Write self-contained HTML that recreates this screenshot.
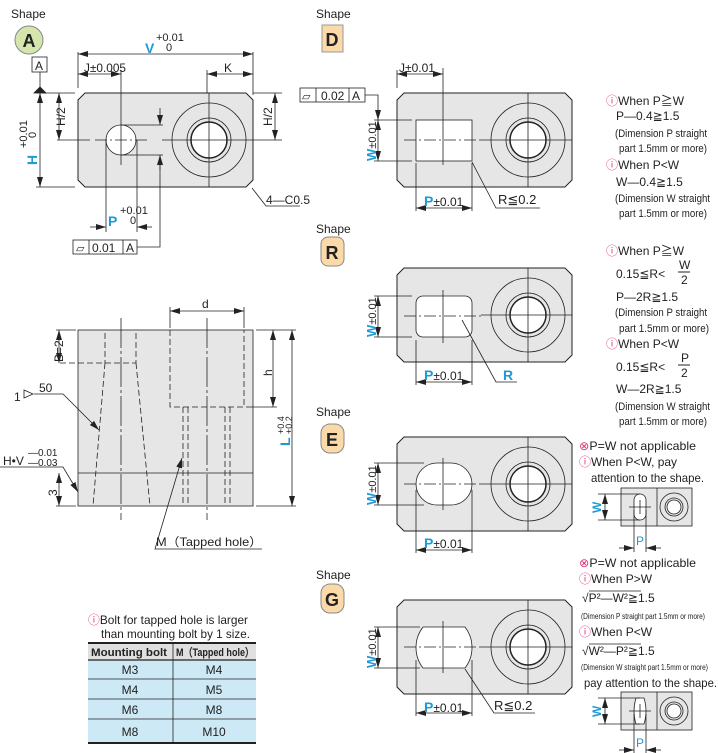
<!DOCTYPE html>
<html><head><meta charset="utf-8"><style>
html,body{margin:0;padding:0;background:#fff}
svg{display:block}
text{font-family:"Liberation Sans",sans-serif;fill:#222}
.b{fill:#1e9ad6;font-weight:bold}
</style></head><body>
<svg width="718" height="753" viewBox="0 0 718 753" xmlns="http://www.w3.org/2000/svg">
<defs>
<marker id="ar" viewBox="0 0 10 6" refX="10" refY="3" markerWidth="10" markerHeight="6" orient="auto-start-reverse" markerUnits="userSpaceOnUse"><path d="M0,0 L10,3 L0,6 Z" fill="#222"/></marker>
<g id="plate">
<path d="M7,0 H168 L175,7 V87 L168,94 H7 L0,87 V7 Z" fill="#e6e6e6" stroke="#222" stroke-width="1"/>
<circle cx="131" cy="47" r="37" fill="none" stroke="#222"/>
<circle cx="131" cy="47" r="22" fill="none" stroke="#222"/>
<circle cx="131" cy="47" r="18" fill="#fff" stroke="#222" stroke-width="1.5"/>
<line x1="131" y1="0" x2="131" y2="94" stroke="#222" stroke-width=".8"/>
<line x1="84" y1="47" x2="175" y2="47" stroke="#222" stroke-width=".8"/>
</g>
<g id="mini">
<rect x="0" y="0" width="71" height="38" fill="#e6e6e6" stroke="#222"/>
<line x1="36" y1="0" x2="36" y2="38" stroke="#222"/>
<circle cx="53" cy="19" r="14" fill="none" stroke="#222"/>
<circle cx="53" cy="19" r="9" fill="none" stroke="#222"/>
<circle cx="53" cy="19" r="7" fill="#fff" stroke="#222"/>
</g>
</defs>
<g stroke="#222" stroke-width=".8" fill="none">

<!-- ===== Shape A ===== -->
<use href="#plate" x="78" y="93"/>
<circle cx="121" cy="140" r="15" fill="#fff" stroke="#222"/>
<line x1="95" y1="140" x2="147" y2="140" stroke-dasharray="12,3,2,3"/>
<line x1="121" y1="70" x2="121" y2="165"/>
<line x1="57" y1="140" x2="90" y2="140"/>
<line x1="253" y1="140" x2="282" y2="140"/>
<line x1="253" y1="93" x2="282" y2="93"/>
<line x1="36" y1="93" x2="75" y2="93"/>
<line x1="36" y1="187" x2="75" y2="187"/>
<line x1="78" y1="52" x2="78" y2="88"/><line x1="253" y1="52" x2="253" y2="95"/>
<line x1="78" y1="54" x2="253" y2="54" marker-start="url(#ar)" marker-end="url(#ar)"/>
<line x1="78" y1="74" x2="121" y2="74" marker-start="url(#ar)" marker-end="url(#ar)"/>
<line x1="207" y1="70" x2="207" y2="93"/>
<line x1="207" y1="74" x2="253" y2="74" marker-start="url(#ar)" marker-end="url(#ar)"/>
<line x1="40" y1="93" x2="40" y2="187" marker-start="url(#ar)" marker-end="url(#ar)"/>
<line x1="59" y1="93" x2="59" y2="140" marker-start="url(#ar)" marker-end="url(#ar)"/>
<line x1="275" y1="93" x2="275" y2="140" marker-start="url(#ar)" marker-end="url(#ar)"/>
<line x1="40" y1="72" x2="40" y2="88"/>
<path d="M34,93 L40,87 L46,93 Z" fill="#222"/>
<rect x="32" y="57" width="15" height="15" fill="#fff"/>
<line x1="106" y1="140" x2="106" y2="232"/><line x1="137" y1="140" x2="137" y2="232"/>
<line x1="90" y1="227" x2="106" y2="227" marker-end="url(#ar)"/>
<line x1="152" y1="227" x2="137" y2="227" marker-end="url(#ar)"/>
<line x1="121" y1="125" x2="163" y2="125"/><line x1="121" y1="155" x2="163" y2="155"/>
<line x1="160" y1="108" x2="160" y2="125" marker-end="url(#ar)"/>
<line x1="160" y1="170" x2="160" y2="155" marker-end="url(#ar)"/>
<polyline points="160,155 160,247 137,247"/>
<rect x="73" y="240" width="64" height="14" fill="#fff"/>
<line x1="89" y1="240" x2="89" y2="254"/><line x1="123" y1="240" x2="123" y2="254"/>
<polyline points="252,188 266,206 300,206"/>

<!-- ===== Shape D ===== -->
<use href="#plate" x="397" y="93"/>
<rect x="416" y="120" width="56" height="41" fill="#fff" stroke="#222"/>
<line x1="404" y1="140" x2="484" y2="140" stroke-dasharray="12,3,2,3"/>
<line x1="443" y1="68" x2="443" y2="165"/>
<line x1="397" y1="70" x2="397" y2="88"/>
<line x1="397" y1="74" x2="443" y2="74" marker-start="url(#ar)" marker-end="url(#ar)"/>
<line x1="374" y1="120" x2="412" y2="120"/><line x1="374" y1="161" x2="412" y2="161"/>
<line x1="378" y1="120" x2="378" y2="161" marker-start="url(#ar)" marker-end="url(#ar)"/>
<polyline points="365,95 378,95 378,120" marker-end="url(#ar)"/>
<rect x="300" y="88" width="65" height="14" fill="#fff"/>
<line x1="316" y1="88" x2="316" y2="102"/><line x1="349" y1="88" x2="349" y2="102"/>
<line x1="416" y1="163" x2="416" y2="211"/><line x1="472" y1="163" x2="472" y2="211"/>
<line x1="416" y1="208" x2="472" y2="208" marker-start="url(#ar)" marker-end="url(#ar)"/>
<polyline points="540,208 496,208 472,162"/>

<!-- ===== Shape R ===== -->
<use href="#plate" x="397" y="268"/>
<rect x="416" y="296" width="56" height="41" rx="7" fill="#fff" stroke="#222"/>
<line x1="404" y1="316" x2="484" y2="316" stroke-dasharray="12,3,2,3"/>
<line x1="443" y1="290" x2="443" y2="343"/>
<line x1="374" y1="296" x2="412" y2="296"/><line x1="374" y1="337" x2="412" y2="337"/>
<line x1="378" y1="296" x2="378" y2="337" marker-start="url(#ar)" marker-end="url(#ar)"/>
<line x1="416" y1="340" x2="416" y2="385"/><line x1="472" y1="340" x2="472" y2="385"/>
<line x1="416" y1="382" x2="472" y2="382" marker-start="url(#ar)" marker-end="url(#ar)"/>
<polyline points="517,382 496,382 462,320"/>

<!-- ===== Shape E ===== -->
<use href="#plate" x="397" y="437"/>
<rect x="416" y="463" width="56" height="42" rx="21" fill="#fff" stroke="#222"/>
<line x1="404" y1="484" x2="484" y2="484" stroke-dasharray="12,3,2,3"/>
<line x1="443" y1="458" x2="443" y2="510"/>
<line x1="374" y1="463" x2="424" y2="463"/><line x1="374" y1="505" x2="424" y2="505"/>
<line x1="378" y1="463" x2="378" y2="505" marker-start="url(#ar)" marker-end="url(#ar)"/>
<line x1="416" y1="490" x2="416" y2="553"/><line x1="472" y1="490" x2="472" y2="553"/>
<line x1="416" y1="550" x2="472" y2="550" marker-start="url(#ar)" marker-end="url(#ar)"/>

<use href="#mini" x="621" y="488"/>
<rect x="634" y="494" width="12" height="26" rx="6" fill="#fff" stroke="#222"/>
<line x1="629" y1="507" x2="651" y2="507"/><line x1="640" y1="500" x2="640" y2="514"/>
<line x1="598" y1="494" x2="640" y2="494"/><line x1="598" y1="520" x2="640" y2="520"/>
<line x1="605" y1="494" x2="605" y2="520" marker-start="url(#ar)" marker-end="url(#ar)"/>
<line x1="634" y1="510" x2="634" y2="552"/><line x1="646" y1="510" x2="646" y2="552"/>
<line x1="619" y1="548" x2="634" y2="548" marker-end="url(#ar)"/>
<line x1="661" y1="548" x2="646" y2="548" marker-end="url(#ar)"/>

<!-- ===== Shape G ===== -->
<use href="#plate" x="397" y="600"/>
<path d="M423,627 H465 A33.5,33.5 0 0 1 465,668 H423 A33.5,33.5 0 0 1 423,627 Z" fill="#fff" stroke="#222"/>
<line x1="404" y1="647" x2="484" y2="647" stroke-dasharray="12,3,2,3"/>
<line x1="443" y1="621" x2="443" y2="673"/>
<line x1="374" y1="627" x2="420" y2="627"/><line x1="374" y1="668" x2="420" y2="668"/>
<line x1="378" y1="627" x2="378" y2="668" marker-start="url(#ar)" marker-end="url(#ar)"/>
<line x1="416" y1="660" x2="416" y2="716"/><line x1="472" y1="660" x2="472" y2="716"/>
<line x1="416" y1="713" x2="472" y2="713" marker-start="url(#ar)" marker-end="url(#ar)"/>
<polyline points="535,713 494,713 465,669"/>

<use href="#mini" x="621" y="692"/>
<path d="M636,698 H644 Q648,711 644,724 H636 Q632,711 636,698 Z" fill="#fff" stroke="#222"/>
<line x1="629" y1="711" x2="651" y2="711"/><line x1="640" y1="704" x2="640" y2="718"/>
<line x1="598" y1="698" x2="640" y2="698"/><line x1="598" y1="724" x2="640" y2="724"/>
<line x1="605" y1="698" x2="605" y2="724" marker-start="url(#ar)" marker-end="url(#ar)"/>
<line x1="634" y1="714" x2="634" y2="753"/><line x1="646" y1="714" x2="646" y2="753"/>
<line x1="619" y1="750" x2="634" y2="750" marker-end="url(#ar)"/>
<line x1="661" y1="750" x2="646" y2="750" marker-end="url(#ar)"/>

<!-- ===== Side view ===== -->
<rect x="78" y="330" width="175" height="176" fill="#e6e6e6" stroke="#222"/>
<line x1="78" y1="473" x2="253" y2="473"/>
<g stroke-dasharray="6,3">
<line x1="105" y1="333" x2="105" y2="363"/><line x1="136" y1="333" x2="136" y2="363"/>
<line x1="105" y1="363" x2="93" y2="506"/><line x1="136" y1="363" x2="150" y2="506"/>
<line x1="60" y1="363" x2="136" y2="363"/>
<polyline points="170,330 170,407 244,407 244,330"/>
<line x1="183" y1="407" x2="183" y2="506"/><line x1="188" y1="407" x2="188" y2="506"/>
<line x1="225" y1="407" x2="225" y2="506"/><line x1="230" y1="407" x2="230" y2="506"/>
</g>
<line x1="121" y1="318" x2="121" y2="520" stroke-dasharray="30,3,3,3"/>
<line x1="207" y1="318" x2="207" y2="520" stroke-dasharray="30,3,3,3"/>
<line x1="170" y1="307" x2="170" y2="328"/><line x1="244" y1="307" x2="244" y2="328"/>
<line x1="170" y1="311" x2="244" y2="311" marker-start="url(#ar)" marker-end="url(#ar)"/>
<line x1="56" y1="330" x2="76" y2="330"/>
<line x1="59" y1="330" x2="59" y2="363" marker-start="url(#ar)" marker-end="url(#ar)"/>
<line x1="56" y1="506" x2="76" y2="506"/>
<line x1="59" y1="473" x2="59" y2="506" marker-start="url(#ar)" marker-end="url(#ar)"/>
<line x1="256" y1="330" x2="296" y2="330"/><line x1="246" y1="407" x2="277" y2="407"/><line x1="256" y1="506" x2="296" y2="506"/>
<line x1="273" y1="330" x2="273" y2="407" marker-start="url(#ar)" marker-end="url(#ar)"/>
<line x1="292" y1="330" x2="292" y2="506" marker-start="url(#ar)" marker-end="url(#ar)"/>
<polyline points="34,394 63,394 99,430" marker-end="url(#ar)"/>
<path d="M24,390 L33,394 L24,398 Z" fill="#fff"/>
<polyline points="0,467 63,467 78,492" marker-end="url(#ar)"/>
<polyline points="262,549 155,549 182,458" marker-end="url(#ar)"/>

<!-- table -->
<rect x="88" y="643" width="168" height="17" fill="#e0e0e0" stroke="none"/>
<rect x="88" y="660" width="168" height="83" fill="#cde9f6" stroke="none"/>
<line x1="88" y1="643" x2="256" y2="643" stroke-width="2"/>
<line x1="88" y1="660" x2="256" y2="660" stroke-width="1.2"/>
<line x1="88" y1="679" x2="256" y2="679"/><line x1="88" y1="699" x2="256" y2="699"/><line x1="88" y1="719" x2="256" y2="719"/>
<line x1="88" y1="743" x2="256" y2="743" stroke-width="2"/>
<line x1="173" y1="643" x2="173" y2="743"/>
</g>

<!-- labels / badges -->
<text x="11" y="18" font-size="12">Shape</text>
<circle cx="29" cy="40" r="14" fill="#d4e6ad" stroke="#888"/>
<text x="29" y="47" font-size="18" font-weight="bold" text-anchor="middle">A</text>
<text x="39" y="70" font-size="12" text-anchor="middle">A</text>
<text x="316" y="18" font-size="12">Shape</text>
<rect x="322" y="25" width="21" height="27" fill="#fbd9a8" stroke="#999"/>
<text x="332" y="46" font-size="18" font-weight="bold" text-anchor="middle">D</text>
<text x="316" y="233" font-size="12">Shape</text>
<rect x="321" y="237" width="23" height="29" rx="7" fill="#fbd9a8" stroke="#888"/>
<text x="332" y="259" font-size="18" font-weight="bold" text-anchor="middle">R</text>
<text x="316" y="416" font-size="12">Shape</text>
<rect x="321" y="424" width="23" height="29" rx="9" fill="#fbd9a8" stroke="#888"/>
<text x="332" y="446" font-size="18" font-weight="bold" text-anchor="middle">E</text>
<text x="316" y="579" font-size="12">Shape</text>
<rect x="321" y="584" width="23" height="29" rx="9" fill="#fbd9a8" stroke="#888"/>
<text x="332" y="606" font-size="18" font-weight="bold" text-anchor="middle">G</text>

<!-- Shape A dims -->
<text x="145" y="53" font-size="14" class="b">V</text>
<text x="156" y="41" font-size="11">+0.01</text><text x="166" y="51" font-size="11">0</text>
<text x="84" y="72" font-size="12" textLength="42" lengthAdjust="spacingAndGlyphs">J±0.005</text>
<text x="224" y="72" font-size="12">K</text>
<text transform="translate(65,126) rotate(-90)" font-size="12">H/2</text>
<text transform="translate(272,126) rotate(-90)" font-size="12">H/2</text>
<text transform="translate(37,165) rotate(-90)" font-size="14" class="b">H</text>
<text transform="translate(27,148) rotate(-90)" font-size="11">+0.01</text>
<text transform="translate(36,138) rotate(-90)" font-size="11">0</text>
<text x="108" y="226" font-size="14" class="b">P</text>
<text x="120" y="214" font-size="11">+0.01</text><text x="130" y="224" font-size="11">0</text>
<text x="76" y="252" font-size="11">⏥</text><text x="92" y="252" font-size="12">0.01</text><text x="126" y="252" font-size="12">A</text>
<text x="266" y="204" font-size="12">4—C0.5</text>

<!-- Shape D dims -->
<text x="399" y="72" font-size="12">J±0.01</text>
<text x="302" y="100" font-size="11">⏥</text><text x="321" y="100" font-size="12">0.02</text><text x="352" y="100" font-size="12">A</text>
<text transform="translate(376,161) rotate(-90)" font-size="11"><tspan class="b" font-size="13">W</tspan>±0.01</text>
<text x="424" y="206" font-size="12"><tspan class="b" font-size="14">P</tspan>±0.01</text>
<text x="498" y="204" font-size="13">R≦0.2</text>
<g font-size="12">
<text x="606" y="105"><tspan fill="#e0337a">ⓘ</tspan>When P≧W</text>
<text x="616" y="120">P—0.4≧1.5</text>
<text x="615" y="137" font-size="11" textLength="92" lengthAdjust="spacingAndGlyphs">(Dimension P straight</text>
<text x="619" y="152" font-size="11" textLength="88" lengthAdjust="spacingAndGlyphs">part 1.5mm or more)</text>
<text x="606" y="169"><tspan fill="#e0337a">ⓘ</tspan>When P&lt;W</text>
<text x="616" y="186">W—0.4≧1.5</text>
<text x="615" y="202" font-size="11" textLength="95" lengthAdjust="spacingAndGlyphs">(Dimension W straight</text>
<text x="619" y="217" font-size="11" textLength="88" lengthAdjust="spacingAndGlyphs">part 1.5mm or more)</text>
</g>

<!-- Shape R dims -->
<text transform="translate(376,337) rotate(-90)" font-size="11"><tspan class="b" font-size="13">W</tspan>±0.01</text>
<text x="424" y="380" font-size="12"><tspan class="b" font-size="14">P</tspan>±0.01</text>
<text x="503" y="380" font-size="14" class="b">R</text>
<g font-size="12">
<text x="606" y="255"><tspan fill="#e0337a">ⓘ</tspan>When P≧W</text>
<text x="616" y="278">0.15≦R&lt;</text>
<text x="679" y="269">W</text><line x1="678" y1="272" x2="690" y2="272" stroke="#222"/><text x="681" y="284">2</text>
<text x="616" y="301">P—2R≧1.5</text>
<text x="615" y="316" font-size="11" textLength="92" lengthAdjust="spacingAndGlyphs">(Dimension P straight</text>
<text x="619" y="332" font-size="11" textLength="90" lengthAdjust="spacingAndGlyphs">part  1.5mm or more)</text>
<text x="606" y="348"><tspan fill="#e0337a">ⓘ</tspan>When P&lt;W</text>
<text x="616" y="371">0.15≦R&lt;</text>
<text x="681" y="362">P</text><line x1="678" y1="365" x2="690" y2="365" stroke="#222"/><text x="681" y="377">2</text>
<text x="616" y="393">W—2R≧1.5</text>
<text x="615" y="410" font-size="11" textLength="95" lengthAdjust="spacingAndGlyphs">(Dimension W straight</text>
<text x="619" y="425" font-size="11" textLength="88" lengthAdjust="spacingAndGlyphs">part 1.5mm or more)</text>
</g>

<!-- Shape E dims -->
<text transform="translate(376,505) rotate(-90)" font-size="11"><tspan class="b" font-size="13">W</tspan>±0.01</text>
<text x="424" y="548" font-size="12"><tspan class="b" font-size="14">P</tspan>±0.01</text>
<g font-size="12">
<text x="579" y="450" textLength="117" lengthAdjust="spacingAndGlyphs"><tspan fill="#e0337a">⊗</tspan>P=W not applicable</text>
<text x="579" y="466" textLength="98" lengthAdjust="spacingAndGlyphs"><tspan fill="#e0337a">ⓘ</tspan>When P&lt;W, pay</text>
<text x="591" y="482" textLength="113" lengthAdjust="spacingAndGlyphs">attention to the shape.</text>
</g>
<text transform="translate(601,513) rotate(-90)" font-size="12" class="b">W</text>
<text x="636" y="545" font-size="12" style="fill:#1e9ad6">P</text>

<!-- Shape G dims -->
<text transform="translate(376,668) rotate(-90)" font-size="11"><tspan class="b" font-size="13">W</tspan>±0.01</text>
<text x="424" y="712" font-size="12"><tspan class="b" font-size="14">P</tspan>±0.01</text>
<text x="494" y="710" font-size="13">R≦0.2</text>
<g font-size="12">
<text x="579" y="567" textLength="117" lengthAdjust="spacingAndGlyphs"><tspan fill="#e0337a">⊗</tspan>P=W not applicable</text>
<text x="579" y="583"><tspan fill="#e0337a">ⓘ</tspan>When P&gt;W</text>
<text x="582" y="602">√P²—W²≧1.5</text>
<text x="581" y="619" font-size="8" textLength="124" lengthAdjust="spacingAndGlyphs">(Dimension P straight part 1.5mm or more)</text>
<text x="579" y="636"><tspan fill="#e0337a">ⓘ</tspan>When P&lt;W</text>
<text x="582" y="655">√W²—P²≧1.5</text>
<text x="581" y="670" font-size="8" textLength="127" lengthAdjust="spacingAndGlyphs">(Dimension W straight part 1.5mm or more)</text>
<text x="584" y="687" textLength="133" lengthAdjust="spacingAndGlyphs">pay attention to the shape.</text>
</g>
<line x1="589" y1="591" x2="641" y2="591" stroke="#222" stroke-width=".8"/>
<line x1="589" y1="644" x2="641" y2="644" stroke="#222" stroke-width=".8"/>
<text transform="translate(601,717) rotate(-90)" font-size="12" class="b">W</text>
<text x="636" y="747" font-size="12" style="fill:#1e9ad6">P</text>

<!-- Side view labels -->
<text x="202" y="308" font-size="12">d</text>
<text transform="translate(63,362) rotate(-90)" font-size="12">B=2</text>
<text transform="translate(272,376) rotate(-90)" font-size="12">h</text>
<text transform="translate(290,446) rotate(-90)" font-size="14" class="b">L</text>
<text transform="translate(284,434) rotate(-90)" font-size="9">+0.4</text>
<text transform="translate(292,434) rotate(-90)" font-size="9">+0.2</text>
<text x="14" y="401" font-size="12">1</text>
<text x="39" y="392" font-size="12">50</text>
<text x="3" y="465" font-size="12">H•V</text>
<text x="28" y="456" font-size="10">—0.01</text><text x="28" y="466" font-size="10">—0.03</text>
<text transform="translate(57,496) rotate(-90)" font-size="12">3</text>
<text x="156" y="546" font-size="12" textLength="106" lengthAdjust="spacingAndGlyphs">M（Tapped hole）</text>

<!-- table text -->
<text x="88" y="624" font-size="12" textLength="160" lengthAdjust="spacingAndGlyphs"><tspan fill="#e0337a">ⓘ</tspan>Bolt for tapped hole is larger</text>
<text x="101" y="638" font-size="12" textLength="149" lengthAdjust="spacingAndGlyphs">than mounting bolt by 1 size.</text>
<text x="91" y="656" font-size="11" font-weight="bold" textLength="76" lengthAdjust="spacingAndGlyphs">Mounting bolt</text>
<text x="176" y="656" font-size="11" font-weight="bold" textLength="78" lengthAdjust="spacingAndGlyphs">M（Tapped hole）</text>
<g font-size="12" text-anchor="middle">
<text x="130" y="674">M3</text><text x="214" y="674">M4</text>
<text x="130" y="694">M4</text><text x="214" y="694">M5</text>
<text x="130" y="714">M6</text><text x="214" y="714">M8</text>
<text x="130" y="736">M8</text><text x="214" y="736">M10</text>
</g>
</svg>
</body></html>
